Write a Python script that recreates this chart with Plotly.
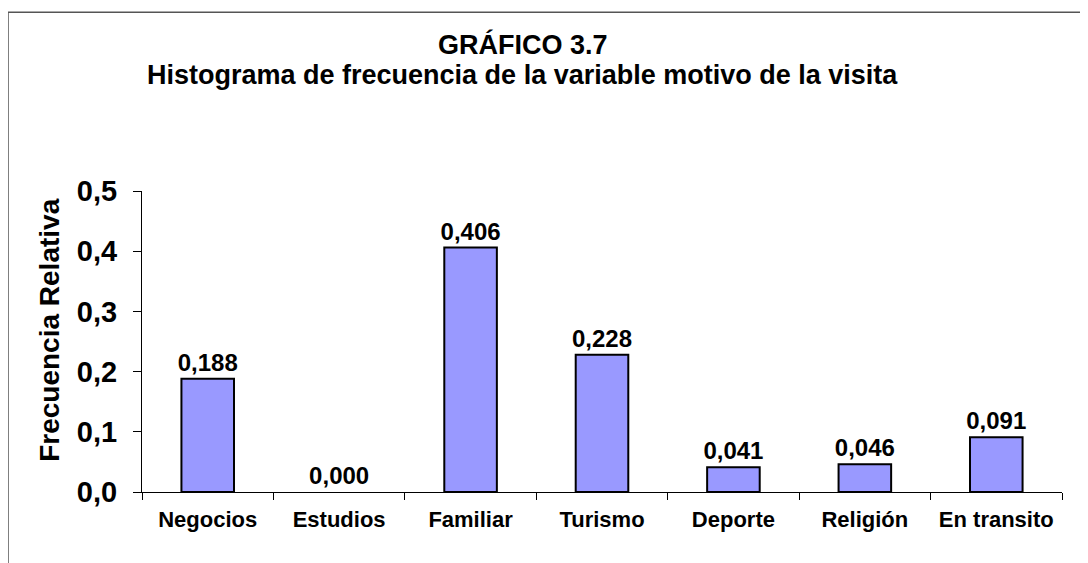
import plotly.graph_objects as go

categories = ["Negocios", "Estudios", "Familiar", "Turismo", "Deporte", "Religión", "En transito"]
values = [0.188, 0.000, 0.406, 0.228, 0.041, 0.046, 0.091]
y_ticks = [0.0, 0.1, 0.2, 0.3, 0.4, 0.5]
title_line1 = "GRÁFICO 3.7"
title_line2 = "Histograma de frecuencia de la variable motivo de la visita"
y_title = "Frecuencia Relativa"

FONT = "Arial, Liberation Sans, sans-serif"

# page has an 8px body margin; positions below are in reference-image pixels
OFF = 8
W, H = 1088, 563
plot_left, plot_right, plot_top, plot_bottom = 142, 1062, 191, 492.4
L = plot_left - OFF
R = W - (plot_right - OFF)
T = plot_top - OFF
B = H - (plot_bottom - OFF)
pw, ph = W - L - R, H - T - B

def px(ximg):
    return (ximg - OFF - L) / pw

def py(yimg):
    return (H - B - (yimg - OFF)) / ph

outline_widths = [2 if v > 0 else 0 for v in values]

fig = go.Figure()
fig.add_trace(go.Bar(
    x=categories, y=values,
    width=0.4,
    marker=dict(color="#9999FF", line=dict(color="black", width=outline_widths)),
    texttemplate="%{y:.3f}", textposition="outside",
    textfont=dict(family=FONT, size=24, color="black", weight=700),
    constraintext="none",
    cliponaxis=False,
))

fig.update_layout(
    width=W, height=H,
    margin=dict(l=L, r=R, t=T, b=B),
    paper_bgcolor="white", plot_bgcolor="white",
    separators=",.",
    showlegend=False,
    font=dict(family=FONT, color="black"),
    xaxis=dict(
        type="category", showgrid=False, showline=True, linecolor="black", linewidth=1,
        ticks="outside", tickson="boundaries", ticklen=7, tickcolor="black",
        tickfont=dict(family=FONT, size=22, weight=700, color="black"),
        ticklabelstandoff=8,
    ),
    yaxis=dict(
        range=[0, 0.5], tickvals=y_ticks, tickformat=".1f",
        showgrid=False, zeroline=False, showline=True, linecolor="black", linewidth=1,
        ticks="outside", ticklen=8, tickcolor="black",
        tickfont=dict(family=FONT, size=29, weight=700, color="black"),
        ticklabelstandoff=10,
    ),
    annotations=[
        dict(text=title_line1, xref="paper", yref="paper", x=px(523), y=py(44),
             xanchor="center", yanchor="middle", showarrow=False,
             font=dict(family=FONT, size=27, weight=700, color="black")),
        dict(text=title_line2, xref="paper", yref="paper", x=px(522), y=py(75),
             xanchor="center", yanchor="middle", showarrow=False,
             font=dict(family=FONT, size=27, weight=700, color="black")),
        dict(text=y_title, xref="paper", yref="paper", x=px(50), y=py(331),
             xanchor="center", yanchor="middle", showarrow=False, textangle=-90,
             font=dict(family=FONT, size=28, weight=700, color="black")),
    ],
    shapes=[
        dict(type="line", xref="paper", yref="paper", x0=px(8), x1=px(1200), y0=py(12), y1=py(12),
             line=dict(color="#555555", width=1.5)),
        dict(type="line", xref="paper", yref="paper", x0=px(8), x1=px(8), y0=py(12), y1=py(700),
             line=dict(color="#555555", width=1.5)),
    ],
)

fig.write_html("out.html")
